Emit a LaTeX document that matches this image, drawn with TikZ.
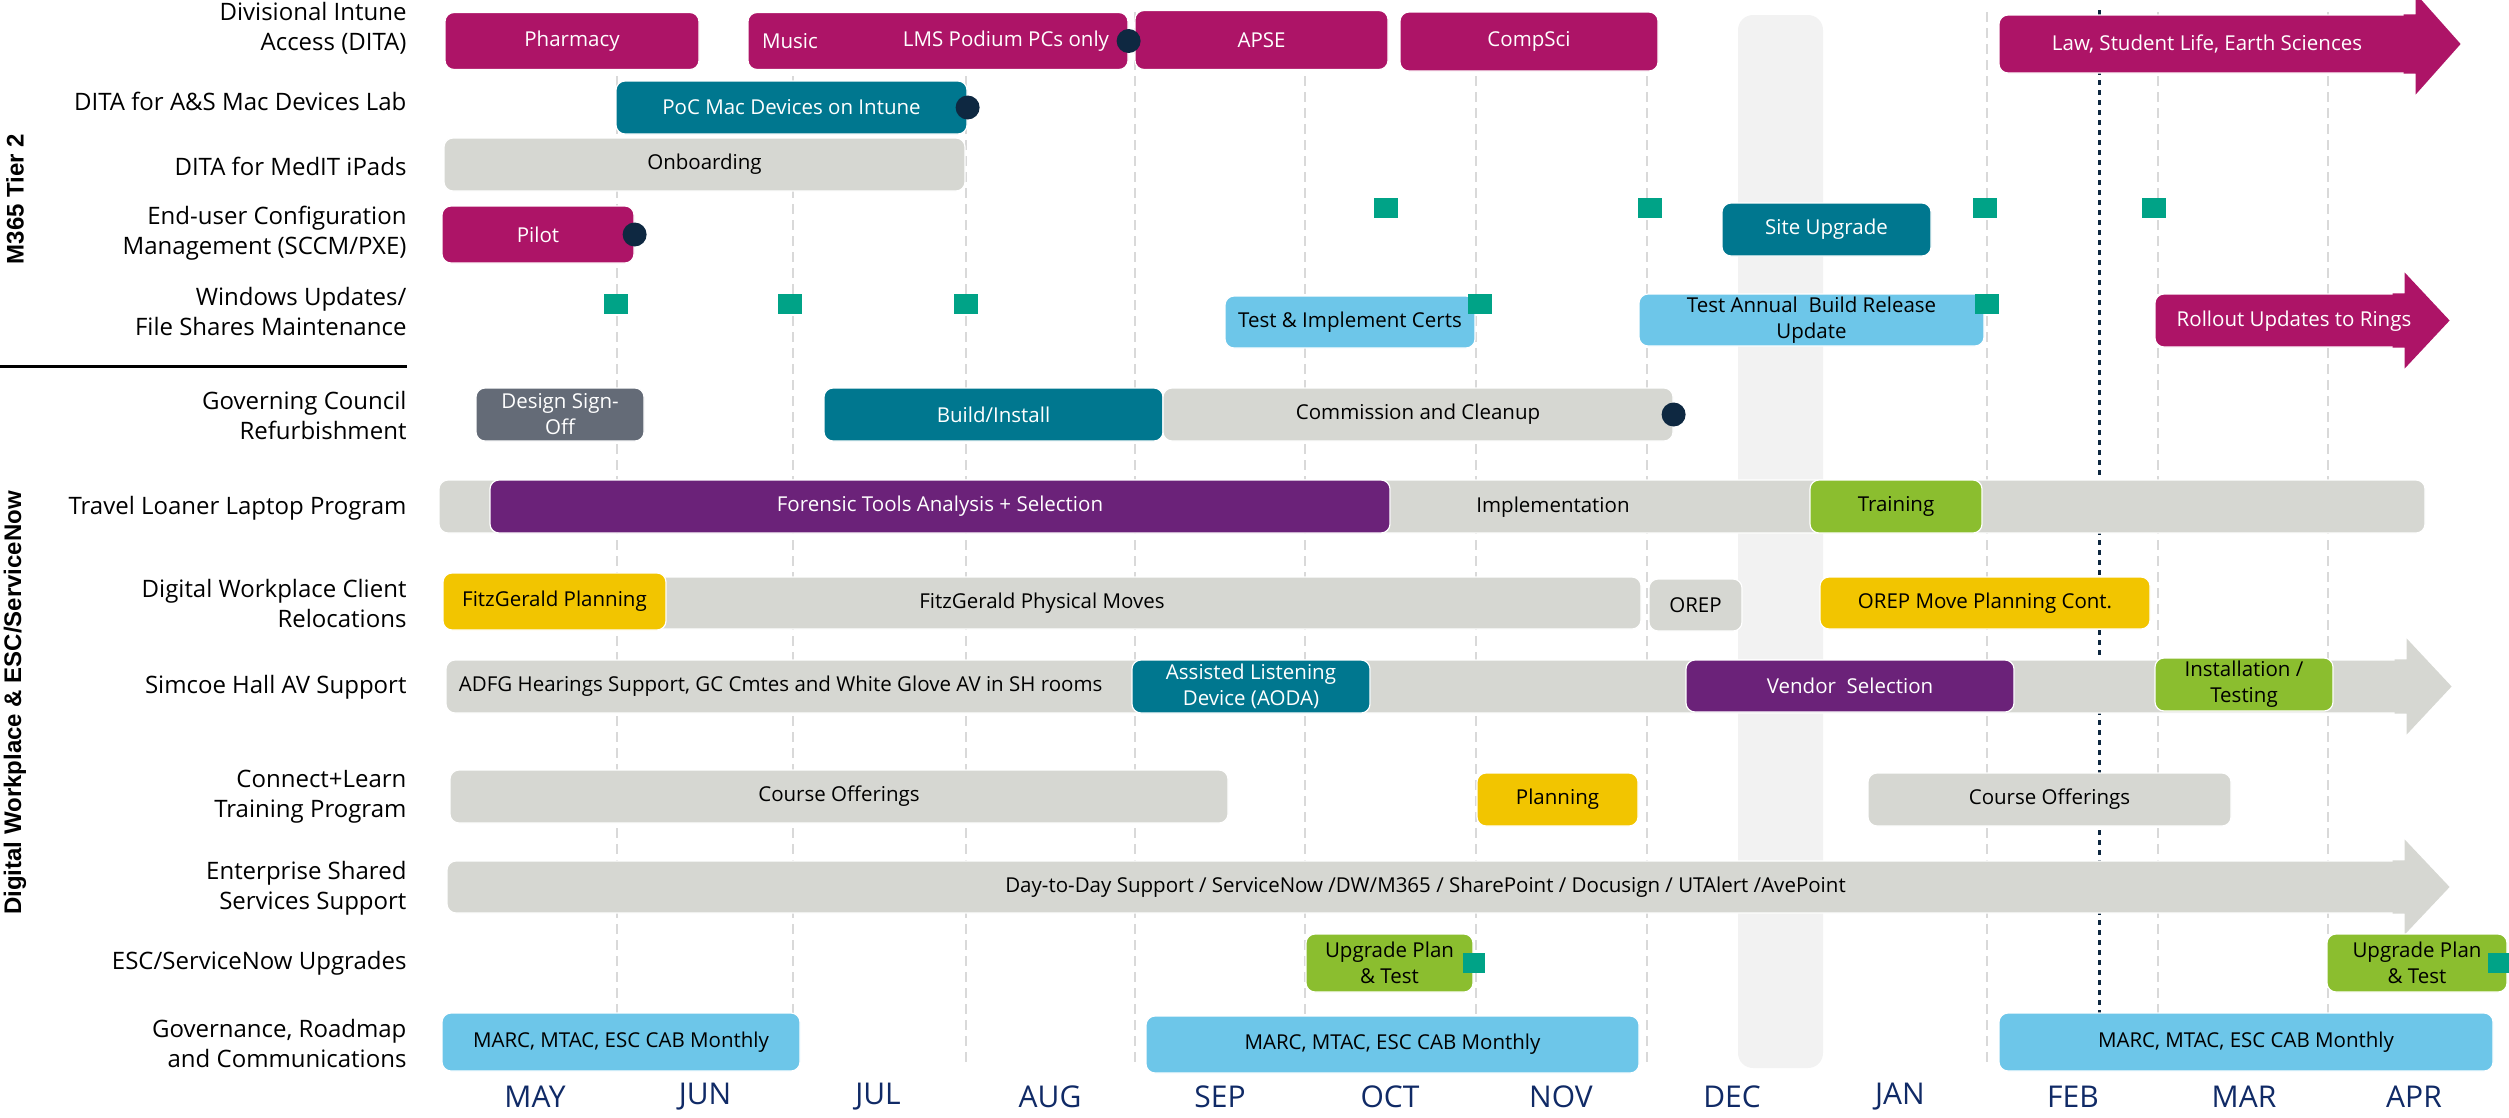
\documentclass[tikz,border=0pt]{standalone}
\usepackage{fontspec}
\setmainfont{Open Sans}
\newfontfamily\sidefont{Liberation Sans}
\usepackage{xcolor}
\definecolor{cMag}{HTML}{AD1467}
\definecolor{cTeal}{HTML}{00778F}
\definecolor{cGray}{HTML}{D6D7D2}
\definecolor{cSlate}{HTML}{646B77}
\definecolor{cPurple}{HTML}{6B2279}
\definecolor{cYellow}{HTML}{F2C500}
\definecolor{cLBlue}{HTML}{6DC6E9}
\definecolor{cLime}{HTML}{8BBE2F}
\definecolor{cSq}{HTML}{00A387}
\definecolor{cNavy}{HTML}{0E2841}
\definecolor{cMonth}{HTML}{102A66}
\definecolor{cGrid}{HTML}{D9D9D9}
\definecolor{cBand}{HTML}{F2F2F2}
\newcommand{\rowfont}{\fontsize{24}{30}\selectfont}
\newcommand{\barfont}{\fontsize{20.5}{26}\selectfont}
\newcommand{\monfont}{\fontsize{30}{32}\selectfont}
\newcommand{\headon}[2]{\fill[#2] ([xshift=-12pt]#1.north east) -- (#1.north east) -- ++(0,-21) -- ([xshift=45pt]#1.east) -- ([shift={(0,21)}]#1.south east) -- (#1.south east) -- ([xshift=-12pt]#1.south east) -- cycle;}

\begin{document}
\begin{tikzpicture}[x=1pt,y=-1pt,
    bar/.style={rounded corners=9pt,draw=white,line width=1.2pt,inner sep=0pt,align=center,font=\barfont},
    sz/.style 2 args={minimum width=#1,minimum height=#2},
    mag/.style={bar,fill=cMag,text=white},
    teal/.style={bar,fill=cTeal,text=white},
    grey/.style={bar,fill=cGray},
    slate/.style={bar,fill=cSlate,text=white},
    purp/.style={bar,fill=cPurple,text=white},
    yell/.style={bar,fill=cYellow},
    lblue/.style={bar,fill=cLBlue},
    lime/.style={bar,fill=cLime},
    msq/.style={fill=cSq,minimum width=24,minimum height=20,inner sep=0pt},
    dot/.style={circle,fill=cNavy,minimum size=24,inner sep=0pt},
    rowlbl/.style={anchor=east,align=right,font=\rowfont},
    side/.style={rotate=90,font=\sidefont\bfseries\fontsize{24}{28}\selectfont}]
  \useasboundingbox (0,0) rectangle (2509,1117);
  % background: december band, month lines, today line
  \fill[cBand,rounded corners=15pt] (1738,15) rectangle (1823,1068);
  \foreach \x in {617,793,966,1135,1305,1476,1647,1987,2158,2328}
    \draw[cGrid,line width=2pt,dash pattern=on 10pt off 6pt] (\x,12) -- (\x,1063);
  \draw[cNavy,line width=3pt,dash pattern=on 5pt off 5pt] (2099,10) -- (2099,1063);
  \foreach \m/\x in {MAY/535,JUN/705,JUL/878,AUG/1050,SEP/1220,OCT/1390,NOV/1561,DEC/1732,JAN/1900,FEB/2073,MAR/2244,APR/2414}
    \node[text=cMonth,font=\monfont] (m\m) at (\x,1097) {\m};

  % side headings
  \node[side] (tier) at (15,199) {M365 Tier 2};
  \node[side] (dwp) at (15,703) {Digital Workplace \& ESC/ServiceNow};
  \draw[line width=3pt] (0,366) -- (407,366);

  % row labels
  \node[rowlbl] (r1) at (410,28) {Divisional Intune\\Access (DITA)};
  \node[rowlbl] (r2) at (410,101) {DITA for A\&S Mac Devices Lab};
  \node[rowlbl] (r3) at (410,166) {DITA for MedIT iPads};
  \node[rowlbl] (r4) at (410,233) {End-user Configuration\\Management (SCCM/PXE)};
  \node[rowlbl] (r5) at (410,311) {Windows Updates/\\File Shares Maintenance};
  \node[rowlbl] (r6) at (410,415) {Governing Council\\Refurbishment};
  \node[rowlbl] (r7) at (410,508) {Travel Loaner Laptop Program};
  \node[rowlbl] (r8) at (410,603) {Digital Workplace Client\\Relocations};
  \node[rowlbl] (r9) at (410,687) {Simcoe Hall AV Support};
  \node[rowlbl] (r10) at (410,797) {Connect+Learn\\Training Program};
  \node[rowlbl] (r11) at (410,888) {Enterprise Shared\\Services Support};
  \node[rowlbl] (r12) at (410,963) {ESC/ServiceNow Upgrades};
  \node[rowlbl] (r13) at (410,1043) {Governance, Roadmap\\and Communications};

  % M365 Tier 2 rows
  \node[mag,sz={254}{57}] (pharm) at (572,41) {Pharmacy};
  \node[mag,sz={380}{57}] (lms) at (938,41) {};
  \node[font=\barfont,text=white] (music) at (790,41) {Music};
  \node[font=\barfont,text=white] (lmstxt) at (1006,41) {LMS Podium PCs only};
  \node[mag,sz={253}{59}] (apse) at (1261.5,40) {APSE};
  \node[mag,sz={258}{59}] (compsci) at (1529,41.5) {CompSci};
  \node[mag,sz={416}{58}] (law) at (2207,44) {Law, Student Life, Earth Sciences};
  \headon{law}{cMag}
  \node[teal,sz={351}{53}] (poc) at (791.5,107.5) {PoC Mac Devices on Intune};
  \node[grey,sz={521}{53}] (onboard) at (704.5,164.5) {Onboarding};
  \node[mag,sz={192}{57}] (pilot) at (538,234.5) {Pilot};
  \node[teal,sz={209}{53}] (site) at (1826.5,229.5) {Site Upgrade};
  \node[lblue,sz={250}{52}] (certs) at (1350,322) {Test \& Implement Certs};
  \node[lblue,sz={345}{52}] (annual) at (1811.5,320) {Test Annual~ Build Release\\Update};
  \node[mag,sz={249}{53}] (rollout) at (2279.5,320.5) {};
  \headon{rollout}{cMag}
  \node[font=\barfont,text=white] (rollouttxt) at (2294,321) {Rollout Updates to Rings};
  \node[dot] (d1) at (lms.east) {};
  \node[dot] (d2) at (poc.east) {};
  \node[dot] (d3) at (pilot.east) {};
  \foreach \x/\y [count=\i] in {1386/208,1650/208,1985/208,2154/208,616/304,790/304,966/304,1480/304,1987/304}
    \node[msq] (sq\i) at (\x,\y) {};

  % Digital Workplace rows
  \node[slate,sz={168}{53}] (design) at (560,414.5) {Design Sign-\\Off};
  \node[teal,sz={339}{53}] (build) at (993.5,414.5) {Build/Install};
  \node[grey,sz={510}{53}] (commission) at (1418,414.5) {Commission and Cleanup};
  \node[dot] (d4) at (commission.east) {};
  \node[grey,sz={1986}{53}] (travel) at (1432,506.5) {};
  \node[purp,sz={900}{53}] (forensic) at (940,506.5) {Forensic Tools Analysis + Selection};
  \node[font=\barfont] (impl) at (1553,507) {Implementation};
  \node[lime,sz={172}{53}] (training) at (1896,506.5) {Training};
  \node[grey,sz={1198}{52}] (moves) at (1042,603) {FitzGerald Physical Moves};
  \node[yell,sz={223}{57}] (fitzplan) at (554.5,601.5) {FitzGerald Planning};
  \node[grey,sz={93}{52}] (orep) at (1695.5,605) {OREP};
  \node[yell,sz={330}{52}] (orepmove) at (1985,603) {OREP Move Planning Cont.};
  \node[grey,sz={1960}{53}] (simcoe) at (1426,686.5) {};
  \headon{simcoe}{cGray}
  \node[font=\barfont,anchor=west] (adfg) at ([xshift=10pt]simcoe.west) {ADFG Hearings Support, GC Cmtes and White Glove AV in SH rooms};
  \node[teal,sz={238}{53}] (aoda) at (1251,686.5) {Assisted Listening\\Device (AODA)};
  \node[purp,sz={328}{52}] (vendor) at (1850,686) {Vendor~ Selection};
  \node[lime,sz={178}{53}] (install) at (2244,684.5) {Installation /\\Testing};
  \node[grey,sz={778}{53}] (course1) at (839,796.5) {Course Offerings};
  \node[yell,sz={161}{53}] (planning) at (1557.5,799.5) {Planning};
  \node[grey,sz={363}{53}] (course2) at (2049.5,799.5) {Course Offerings};
  \node[grey,sz={1957}{52}] (shared) at (1425.5,887) {Day-to-Day Support / ServiceNow /DW/M365 / SharePoint / Docusign / UTAlert /AvePoint};
  \headon{shared}{cGray}
  \node[lime,sz={167}{58}] (upg1) at (1389.5,963) {Upgrade Plan\\\& Test};
  \node[lime,sz={180}{58}] (upg2) at (2417,963) {Upgrade Plan\\\& Test};
  \node[msq,minimum width=22] (sq10) at (1474,963) {};
  \node[msq,minimum width=22] (sq11) at (2499,963) {};
  \node[lblue,sz={358}{58}] (marc1) at (621,1042) {MARC, MTAC, ESC CAB Monthly};
  \node[lblue,sz={493}{57}] (marc2) at (1392.5,1044.5) {MARC, MTAC, ESC CAB Monthly};
  \node[lblue,sz={494}{58}] (marc3) at (2246,1042) {MARC, MTAC, ESC CAB Monthly};
\end{tikzpicture}
\end{document}
